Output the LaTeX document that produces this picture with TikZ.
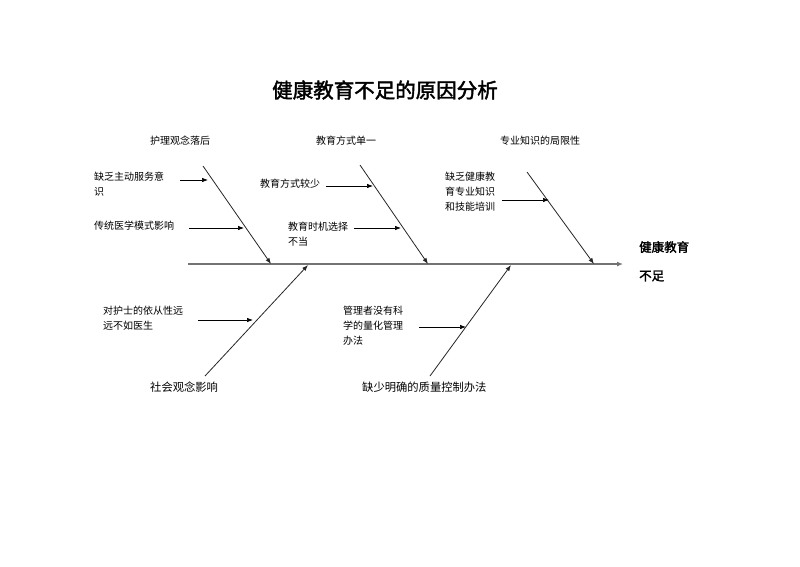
\documentclass[tikz,border=0pt]{standalone}
\usepackage{fontspec}
\newfontfamily\cjk{Noto Sans CJK SC}[AutoFakeBold=2]
\usetikzlibrary{arrows.meta}
\begin{document}
\begin{tikzpicture}[x=1pt,y=-1pt,
  lbl/.style={font=\cjk\fontsize{10}{15}\selectfont,inner sep=0pt,align=left},
  big/.style={font=\cjk\fontsize{11.3}{14}\selectfont,inner sep=0pt},
  spine/.style={draw=black!55,line width=1.6pt,-{Latex[length=6pt,width=5pt]}},
  bone/.style={draw=black!85,line width=0.8pt,-{Latex[length=6pt,width=4.5pt]}},
  sub/.style={draw=black,line width=0.7pt,-{Latex[length=6pt,width=4.5pt]}}]
\fill[white] (0,0) rectangle (800,566);
\useasboundingbox (0,0) rectangle (800,566);
% title
\node[font=\cjk\bfseries\fontsize{20.5}{22}\selectfont,inner sep=0pt] (title) at (385,90) {健康教育不足的原因分析};
% spine
\coordinate (s0) at (188,264);
\coordinate (s1) at (623,264);
\draw[spine] (s0) -- (s1);
% bones coordinates
\coordinate (b1s) at (203,166); \coordinate (b1e) at (271,264);
\coordinate (b2s) at (360,165); \coordinate (b2e) at (428,264);
\coordinate (b3s) at (527,172); \coordinate (b3e) at (594,264);
\coordinate (b4s) at (205,376); \coordinate (b4e) at (308,265);
\coordinate (b5s) at (430,376); \coordinate (b5e) at (511,265);
\draw[bone] (b1s) -- (b1e);
\draw[bone] (b2s) -- (b2e);
\draw[bone] (b3s) -- (b3e);
\draw[bone] (b4s) -- (b4e);
\draw[bone] (b5s) -- (b5e);
% category labels
\node[lbl] (c1) at (180,141) {护理观念落后};
\node[lbl] (c2) at (346,141) {教育方式单一};
\node[lbl] (c3) at (540,141) {专业知识的局限性};
\node[big,anchor=west] (c4) at (150,387) {社会观念影响};
\node[big,anchor=west] (c5) at (362,387) {缺少明确的质量控制办法};
% effect
\node[font=\cjk\bfseries\fontsize{12.5}{14}\selectfont,inner sep=0pt,anchor=west] (e1) at (639,247) {健康教育};
\node[font=\cjk\bfseries\fontsize{12.5}{14}\selectfont,inner sep=0pt,anchor=west] (e2) at (639,276) {不足};
% sub causes
\node[lbl,anchor=north west] (t1) at (94,171.5) {缺乏主动服务意\\识};
\node[lbl,anchor=west] (t2) at (94,226) {传统医学模式影响};
\node[lbl,anchor=west] (t3) at (260,184) {教育方式较少};
\node[lbl,anchor=north west] (t4) at (288,221.5) {教育时机选择\\不当};
\node[lbl,anchor=north west] (t5) at (445,171.5) {缺乏健康教\\育专业知识\\和技能培训};
\node[lbl,anchor=north west] (t6) at (103,305.5) {对护士的依从性远\\远不如医生};
\node[lbl,anchor=north west] (t7) at (343,305.5) {管理者没有科\\学的量化管理\\办法};
% sub arrows
\coordinate (a1s) at (180,180); \coordinate (a1e) at (208,180);
\coordinate (a2s) at (189,228); \coordinate (a2e) at (244,228);
\coordinate (a3s) at (326,186); \coordinate (a3e) at (373,186);
\coordinate (a4s) at (354,228); \coordinate (a4e) at (401,228);
\coordinate (a5s) at (502,200); \coordinate (a5e) at (549,200);
\coordinate (a6s) at (198,320); \coordinate (a6e) at (253,320);
\coordinate (a7s) at (419,327); \coordinate (a7e) at (466,327);
\draw[sub] (a1s) -- (a1e);
\draw[sub] (a2s) -- (a2e);
\draw[sub] (a3s) -- (a3e);
\draw[sub] (a4s) -- (a4e);
\draw[sub] (a5s) -- (a5e);
\draw[sub] (a6s) -- (a6e);
\draw[sub] (a7s) -- (a7e);
\end{tikzpicture}
\end{document}
